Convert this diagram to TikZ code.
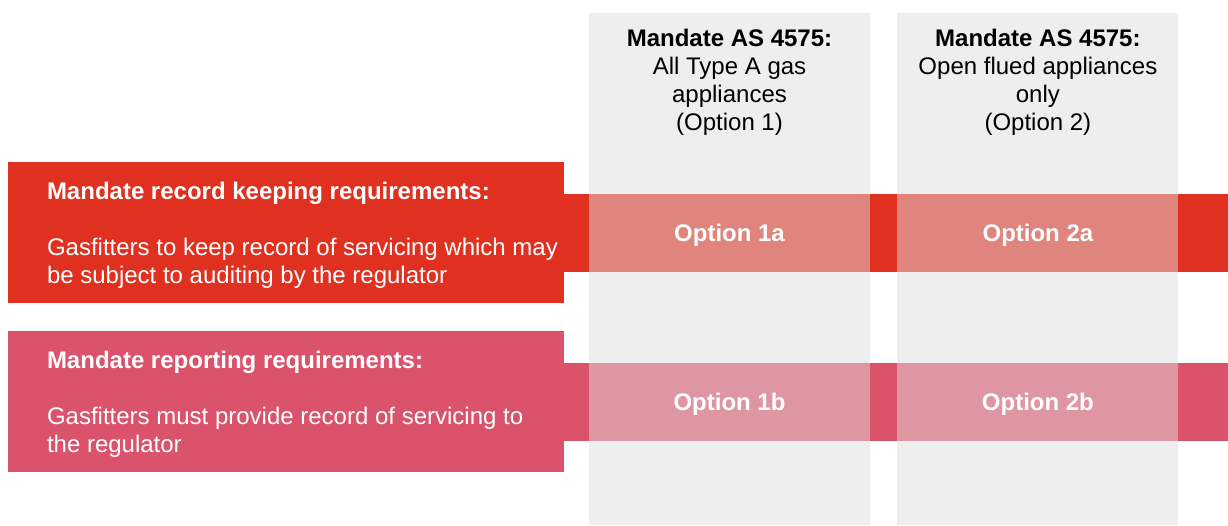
\documentclass[tikz,border=0pt]{standalone}
\usepackage{fontspec}
\setmainfont{Liberation Sans}
\usetikzlibrary{positioning}

\definecolor{recred}{HTML}{E03120}
\definecolor{recredlight}{HTML}{E0857D}
\definecolor{reppink}{HTML}{DA536B}
\definecolor{reppinklight}{HTML}{DE97A2}
\definecolor{colgrey}{HTML}{EEEEEE}

\begin{document}
\begin{tikzpicture}[x=1pt, y=1pt,
  every node/.style = {font=\fontsize{24}{28}\selectfont},
  col/.style = {fill=colgrey, minimum width=281pt, minimum height=512pt, inner sep=0pt},
  box/.style = {fill=#1, minimum width=556pt, minimum height=141pt, inner sep=0pt},
  band/.style = {fill=#1, minimum width=664pt, minimum height=78pt, inner sep=0pt},
  cell/.style = {fill=#1, text=white, font=\fontsize{24}{28}\selectfont\bfseries,
                 minimum width=281pt, minimum height=78pt, inner sep=0pt, text depth=0pt},
  head/.style = {align=center, text=black},
  desc/.style = {align=left, text=white, anchor=west, inner sep=0pt}]
    \useasboundingbox (0,0) rectangle (1228,-525);

    % option columns
    \node[col] (c1) at (729.5,-269) {};
    \node[col] (c2) [right=27pt of c1] {};
    \node[head] (h1) at (729.5,-82) {\textbf{Mandate AS 4575:}\\All Type A gas\\appliances\\(Option 1)};
    \node[head] (h2) at (c2 |- h1) {\textbf{Mandate AS 4575:}\\Open flued appliances\\only\\(Option 2)};

    % requirement rows
    \node[box=recred] (r1) at (286,-232.5) {};
    \node[box=reppink] (r2) at (286,-401.5) {};
    \node[band=recred, anchor=west] (b1) at (r1.east) {};
    \node[band=reppink, anchor=west] (b2) at (r2.east) {};

    \node[desc] (t1) at ([xshift=39pt, yshift=-3pt]r1.west) {\textbf{Mandate record keeping requirements:}\\[28pt]
      Gasfitters to keep record of servicing which may\\be subject to auditing by the regulator};
    \node[desc] (t2) at ([xshift=39pt, yshift=-3pt]r2.west) {\textbf{Mandate reporting requirements:}\\[28pt]
      Gasfitters must provide record of servicing to\\the regulator};

    % option cells
    \node[cell=recredlight] (o1a) at (c1 |- b1) {Option 1a};
    \node[cell=recredlight] (o2a) at (c2 |- b1) {Option 2a};
    \node[cell=reppinklight] (o1b) at (c1 |- b2) {Option 1b};
    \node[cell=reppinklight] (o2b) at (c2 |- b2) {Option 2b};
\end{tikzpicture}
\end{document}
